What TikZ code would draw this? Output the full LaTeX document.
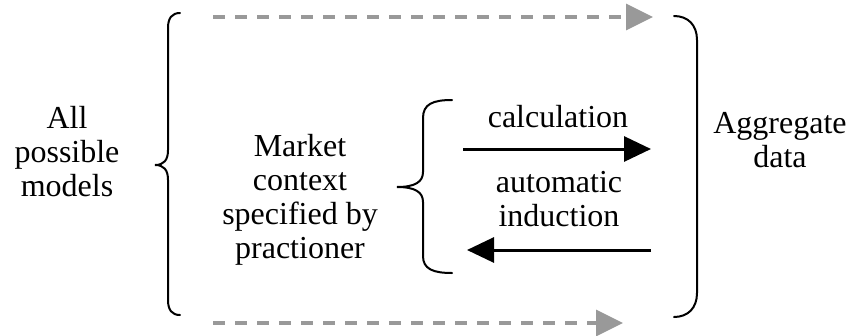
\documentclass[tikz,border=0pt]{standalone}
\usepackage{fontspec}
\setmainfont{Liberation Serif}
\usetikzlibrary{arrows.meta}
\definecolor{hintgray}{HTML}{999999}
\begin{document}
\begin{tikzpicture}[x=1pt,y=-1pt,
  lbl/.style={align=center,font=\fontsize{32}{34}\selectfont,inner sep=0pt},
  bracepath/.style={line width=2pt,line cap=round},
  flow/.style={line width=3pt,-{Triangle[length=27pt,width=25pt]}},
  hint/.style={line width=3.5pt,draw=hintgray,dash pattern=on 12pt off 10pt,
    -{Triangle[length=27pt,width=26pt,fill=hintgray]}}]
\useasboundingbox (0,0) rectangle (849,335);

% labels
\node[lbl] (all) at (67,152) {All\\possible\\models};
\node[lbl] (market) at (300,200) {Market\\context\\specified by\\practioner};
\node[lbl] (agg) at (780,140) {Aggregate\\data};
\node[lbl] (calc) at (558,117) {calculation};
\node[lbl] (induc) at (559,199) {automatic\\induction};

% arrow end points
\coordinate (tA) at (213,17);
\coordinate (tB) at (653,17);
\coordinate (bA) at (213,323);
\coordinate (bB) at (623,323);
\coordinate (cA) at (463,149);
\coordinate (cB) at (651,149);
\coordinate (iA) at (651,250);
\coordinate (iB) at (467,250);

% outer left brace
\draw[bracepath] (180,13) .. controls (172,13) and (168,18) .. (168,28)
  -- (168,150) .. controls (168,160) and (164,165) .. (155,165)
  .. controls (164,165) and (168,170) .. (168,180)
  -- (168,300) .. controls (168,310) and (172,315) .. (180,315);

% right closing bracket
\draw[bracepath] (674,16) .. controls (688,16) and (697,25) .. (697,40)
  -- (697,293) .. controls (697,308) and (688,317) .. (674,317);

% inner brace
\draw[bracepath] (452,100) .. controls (433,100) and (423,104) .. (423,118)
  -- (423,172) .. controls (423,182) and (415,187) .. (397,187)
  .. controls (415,187) and (423,192) .. (423,202)
  -- (423,256) .. controls (423,269) and (433,273) .. (452,273);

% arrows
\draw[hint] (tA) -- (tB);
\draw[hint] (bA) -- (bB);
\draw[flow] (cA) -- (cB);
\draw[flow] (iA) -- (iB);
\end{tikzpicture}
\end{document}
